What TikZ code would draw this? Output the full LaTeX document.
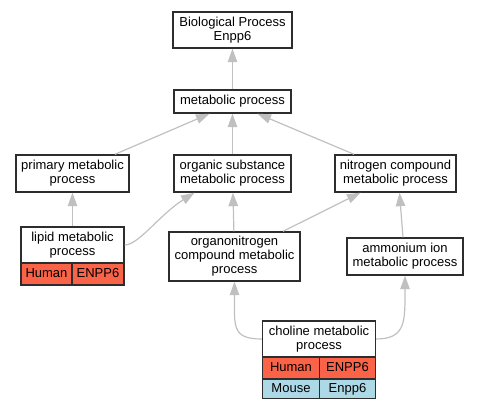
\documentclass[tikz,border=0pt]{standalone}
\usepackage{fontspec}
\setmainfont{Liberation Sans}
\usetikzlibrary{arrows.meta,calc}
\definecolor{bordc}{RGB}{45,45,45}
\definecolor{edgec}{RGB}{192,192,192}
\definecolor{humanc}{RGB}{250,99,71}
\definecolor{mousec}{RGB}{173,216,230}
\tikzset{
  box/.style={draw=bordc, line width=1.4pt, fill=white, inner sep=0pt, align=center,
    font=\fontsize{13}{14}\selectfont},
  cell/.style={box, text height=9.5pt, text depth=2.5pt},
  hum/.style={cell, fill=humanc},
  mou/.style={cell, fill=mousec},
  edge/.style={draw=edgec, line width=1.2pt, -{Triangle[length=13.5pt,width=9.5pt]}},
}
\begin{document}
\begin{tikzpicture}[x=1pt,y=-1pt]
\useasboundingbox (0,0) rectangle (477,411);
% nodes
\node[box, minimum width=119pt, minimum height=36pt] (bp) at (232.5,30) {Biological Process\\Enpp6};
\node[box, minimum width=117pt, minimum height=23pt] (met) at (232.5,101.5) {metabolic process};
\node[box, minimum width=113pt, minimum height=37pt] (prim) at (72.5,173.5) {primary metabolic\\process};
\node[box, minimum width=117pt, minimum height=37pt] (org) at (232.5,173.5) {organic substance\\metabolic process};
\node[box, minimum width=121pt, minimum height=37pt] (nit) at (395.5,173.5) {nitrogen compound\\metabolic process};
\node[box, minimum width=103pt, minimum height=36pt] (lip) at (72.5,245) {lipid metabolic\\process};
\node[hum, minimum width=51pt, minimum height=22pt] (lipH) at (46.5,274) {Human};
\node[hum, minimum width=52pt, minimum height=22pt] (lipG) at (98,274) {ENPP6};
\node[box, minimum width=131pt, minimum height=49pt] (orgn) at (234.5,256.5) {organonitrogen\\compound metabolic\\process};
\node[box, minimum width=116pt, minimum height=37pt] (amm) at (405,256.5) {ammonium ion\\metabolic process};
\node[box, minimum width=113pt, minimum height=36pt] (chol) at (319,339) {choline metabolic\\process};
\node[hum, minimum width=57pt, minimum height=22pt] (cholH) at (291,368) {Human};
\node[hum, minimum width=56pt, minimum height=22pt] (cholG) at (347.5,368) {ENPP6};
\node[mou, minimum width=57pt, minimum height=19.5pt] (cholM) at (291,388.75) {Mouse};
\node[mou, minimum width=56pt, minimum height=19.5pt] (cholMG) at (347.5,388.75) {Enpp6};
% edges
\draw[edge] (met) -- (bp);
\draw[edge] ([xshift=42.5pt]prim.north) -- ([xshift=-23pt]met.south);
\draw[edge] (org) -- (met);
\draw[edge] ([xshift=-41.5pt]nit.north) -- ([xshift=25pt]met.south);
\draw[edge] (lip) -- (prim);
\draw[edge] (lip.east) .. controls +(14,0) and +(-35,22) .. ([xshift=-38pt]org.south);
\draw[edge] (orgn) -- (org);
\draw[edge] ([xshift=48.5pt]orgn.north) -- ([xshift=-35pt]nit.south);
\draw[edge] ([xshift=-2pt]amm.north) -- ([xshift=4pt]nit.south);
\draw[edge] (chol.west) .. controls +(-30,0) and +(0,45) .. (orgn.south);
\draw[edge] (chol.east) .. controls +(30,0) and +(0,45) .. (amm.south);
\end{tikzpicture}
\end{document}
